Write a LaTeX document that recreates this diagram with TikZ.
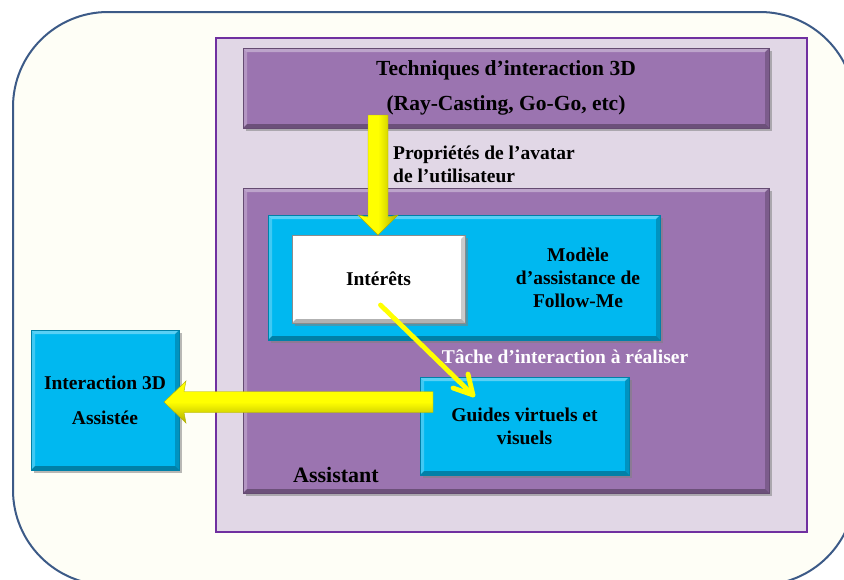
\documentclass[tikz,border=0pt]{standalone}
\usepackage{fontspec}
\setmainfont{Liberation Serif}
\usetikzlibrary{shadows,calc,arrows.meta}
\definecolor{outerfill}{RGB}{254,254,246}
\definecolor{outerline}{RGB}{60,90,135}
\definecolor{lav}{RGB}{225,215,230}
\definecolor{lavline}{RGB}{112,48,160}
\definecolor{purp}{RGB}{155,116,176}
\definecolor{cyanb}{RGB}{0,184,240}
\definecolor{yel}{RGB}{255,255,0}
\definecolor{yeld}{RGB}{175,175,0}
\tikzset{
  bevel/.style={path picture={
    \fill[white,opacity=0.35] (path picture bounding box.north west) -- (path picture bounding box.north east)
      -- ([shift={(-#1,-#1)}]path picture bounding box.north east) -- ([shift={(#1,-#1)}]path picture bounding box.north west) -- cycle;
    \fill[white,opacity=0.25] (path picture bounding box.north west) -- (path picture bounding box.south west)
      -- ([shift={(#1,#1)}]path picture bounding box.south west) -- ([shift={(#1,-#1)}]path picture bounding box.north west) -- cycle;
    \fill[black,opacity=0.3] (path picture bounding box.south west) -- (path picture bounding box.south east)
      -- ([shift={(-#1,#1)}]path picture bounding box.south east) -- ([shift={(#1,#1)}]path picture bounding box.south west) -- cycle;
    \fill[black,opacity=0.2] (path picture bounding box.north east) -- (path picture bounding box.south east)
      -- ([shift={(-#1,#1)}]path picture bounding box.south east) -- ([shift={(-#1,-#1)}]path picture bounding box.north east) -- cycle;
  }},
  box/.style={rectangle, inner sep=0pt, outer sep=0pt, anchor=north west, align=center,
    drop shadow={shadow xshift=3pt, shadow yshift=-3pt, opacity=0.55}, bevel=4pt},
  purpbox/.style={box, fill=purp, draw=purp!65!black, line width=0.8pt},
  cyanbox/.style={box, fill=cyanb, draw=cyanb!70!black, line width=0.6pt},
  whitebox/.style={box, fill=white, draw=black!45, line width=0.6pt},
  txt/.style={inner sep=0pt, align=center},
  bigarrow/.style={draw=yeld, line width=0.4pt},
  thinarrow/.style={yel, line width=4.8pt, line cap=round, line join=round},
}
\begin{document}
\begin{tikzpicture}[x=1pt,y=-1pt, font=\bfseries\fontsize{19.5}{23}\selectfont]
\useasboundingbox (0,0) rectangle (844,579);
% outer frame
\begin{scope}
  \clip (0,0) rectangle (844,579);
  \draw[outerline, line width=2pt, fill=outerfill, rounded corners=95pt] (13,12) rectangle (855,585);
\end{scope}
% lavender frame
\node[rectangle, draw=lavline, line width=1.6pt, fill=lav, anchor=north west, inner sep=0pt,
      minimum width=591pt, minimum height=494pt] (lavbox) at (215,37) {};
% boxes
\node[purpbox, minimum width=526pt, minimum height=80pt,
      font=\bfseries\fontsize{21.5}{24}\selectfont] (tech) at (243,48)
  {Techniques d’interaction 3D\\[11pt](Ray-Casting, Go-Go, etc)};
\node[purpbox, minimum width=526pt, minimum height=305pt] (assist) at (243,188) {};
\node[cyanbox, minimum width=392pt, minimum height=125pt] (modele) at (268,215) {};
\node[whitebox, minimum width=173pt, minimum height=88pt] (interets) at (292,235) {Intérêts};
\node[cyanbox, minimum width=209pt, minimum height=98pt] (guides) at (420,377) {Guides virtuels et\\visuels};
\node[cyanbox, minimum width=148pt, minimum height=140pt] (interact) at (31,330) {Interaction 3D\\[12pt]Assistée};
% labels
\node[txt] (lmodele) at (578,278) {Modèle\\d’assistance de\\Follow-Me};
\node[txt, font=\bfseries\fontsize{22}{25}\selectfont] (lassist) at (336,475) {Assistant};
\node[txt, anchor=west, align=left] (lprop) at (393,164) {Propriétés de l’avatar\\de l’utilisateur};
\node[txt, text=white] (ltache) at (565,357) {Tâche d’interaction à réaliser};
% down arrow
\coordinate (d1) at ($(tech.south west)+(135,-13)$);
\coordinate (d2) at (d1 |- interets.north);
\shade[bigarrow, left color=yel, right color=yeld, middle color=yel]
  ($(d1)+(-10,0)$) -- ($(d1)+(10,0)$) -- ($(d2)+(10,-18)$) -- ($(d2)+(20,-20)$) -- (d2)
  -- ($(d2)+(-20,-20)$) -- ($(d2)+(-10,-18)$) -- cycle;
% left arrow
\coordinate (l1) at ($(guides.north west)+(13,25)$);
\coordinate (l2) at (interact.east |- l1);
\coordinate (l2) at ($(l2)+(-15,0)$);
\shade[bigarrow, top color=yel, bottom color=yeld, middle color=yel]
  ($(l1)+(0,-10.5)$) -- ($(l2)+(20,-10.5)$) -- ($(l2)+(22,-21)$) -- (l2)
  -- ($(l2)+(22,21)$) -- ($(l2)+(20,10.5)$) -- ($(l1)+(0,10.5)$) -- cycle;
% thin arrow with chevron head
\coordinate (t1) at ($(interets.center)+(2,26)$);
\coordinate (t2) at ($(guides.north west)+(53,18)$);
\draw[thinarrow] (t1) -- (t2);
\draw[thinarrow] ($(t2)+(-20,-7)$) -- (t2) -- ($(t2)+(-5,-21)$);
\end{tikzpicture}
\end{document}
